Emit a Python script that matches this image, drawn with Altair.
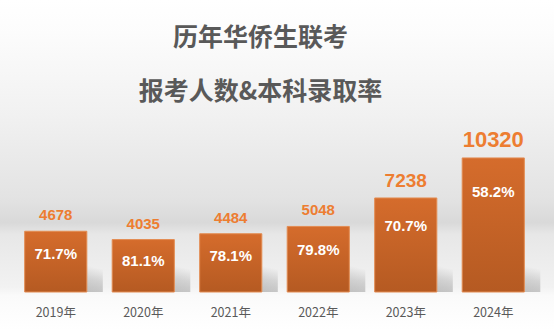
import altair as alt
import pandas as pd

years = ["2019年", "2020年", "2021年", "2022年", "2023年", "2024年"]
applicants = [4678, 4035, 4484, 5048, 7238, 10320]
rates = ["71.7%", "81.1%", "78.1%", "79.8%", "70.7%", "58.2%"]
title_lines = ["历年华侨生联考", "报考人数&本科录取率"]

df = pd.DataFrame({"year": years, "value": applicants, "rate": rates})
bg_df = pd.DataFrame({"k": [0]})

W, H = 525, 292

xenc = alt.X("year:N", sort=years,
             scale=alt.Scale(paddingInner=0.29, paddingOuter=0.145),
             axis=alt.Axis(title=None, ticks=False, domain=False, labelAngle=0,
                           labelFont="Noto Sans CJK SC", labelFontSize=12.5,
                           labelColor="#595959", labelPadding=20,
                           labelBaseline="middle", grid=False, zindex=2))
yscale = alt.Scale(domain=[0, 22480], nice=False, zero=True)

bg_grad = alt.Gradient(
    gradient="linear", x1=0, x2=0, y1=0, y2=1,
    stops=[
        alt.GradientStop(color="#ffffff", offset=0),
        alt.GradientStop(color="#fcfcfc", offset=0.1),
        alt.GradientStop(color="#f1f1f1", offset=0.35),
        alt.GradientStop(color="#e3e3e3", offset=0.6),
        alt.GradientStop(color="#d9d9d9", offset=0.675),
        alt.GradientStop(color="#e7e7e7", offset=0.71),
        alt.GradientStop(color="#f2f2f2", offset=0.87),
        alt.GradientStop(color="#fafafa", offset=0.895),
        alt.GradientStop(color="#ffffff", offset=1),
    ])

background = alt.Chart(bg_df).mark_rect(color=bg_grad, clip=False).encode(
    x=alt.value(-12), x2=alt.value(542), y=alt.value(0), y2=alt.value(330))

shadow_grad = alt.Gradient(
    gradient="linear", x1=0.6, y1=1, x2=1, y2=0.2,
    stops=[
        alt.GradientStop(color="rgba(120,120,120,0.45)", offset=0),
        alt.GradientStop(color="rgba(120,120,120,0.25)", offset=0.55),
        alt.GradientStop(color="rgba(120,120,120,0)", offset=1),
    ])

base = alt.Chart(df)

shadow = base.mark_bar(color=shadow_grad, xOffset=16).encode(
    x=xenc,
    y=alt.Y(datum=2200, type="quantitative", scale=yscale, axis=None),
    y2=alt.Y2(datum=0),
)

bar_grad = alt.Gradient(
    gradient="linear", x1=0, x2=0, y1=0, y2=1,
    stops=[alt.GradientStop(color="#D56C2C", offset=0),
           alt.GradientStop(color="#B55A22", offset=1)])

bars = base.mark_bar(color=bar_grad, stroke="#E38C52", strokeWidth=1).encode(
    x=xenc,
    y=alt.Y("value:Q", scale=yscale, axis=None),
)

value_labels = base.mark_text(
    color="#ED7D31", fontWeight="bold", font="Liberation Sans",
    baseline="alphabetic", dy=-11).encode(
    x=xenc,
    y=alt.Y("value:Q", scale=yscale, axis=None),
    text=alt.Text("value:Q", format="d"),
    size=alt.Size("value:Q", scale=alt.Scale(type="threshold", domain=[6000, 9000],
                                             range=[15, 19, 22]), legend=None),
)

rate_labels = base.transform_calculate(
    ly="datum.value * 0.84 - 980"
).mark_text(color="#ffffff", fontWeight="bold", font="Liberation Sans",
            fontSize=15, baseline="middle").encode(
    x=xenc,
    y=alt.Y("ly:Q", scale=yscale, axis=None),
    text="rate:N",
)

chart = alt.layer(background, shadow, bars, value_labels, rate_labels).properties(
    width=W, height=H,
    autosize=alt.AutoSizeParams(type="none"),
    padding={"left": 12, "right": 17, "top": 0, "bottom": 38},
    title=alt.TitleParams(
        text=title_lines, anchor="middle", fontSize=25, fontWeight="bold",
        font="Noto Sans CJK SC", color="#595959", lineHeight=54,
        baseline="middle", offset=0, dy=117, dx=-14),
).configure_view(stroke=None).configure(background="#ffffff")

chart.save("out.html", embed_options={"renderer": "svg", "actions": False})
